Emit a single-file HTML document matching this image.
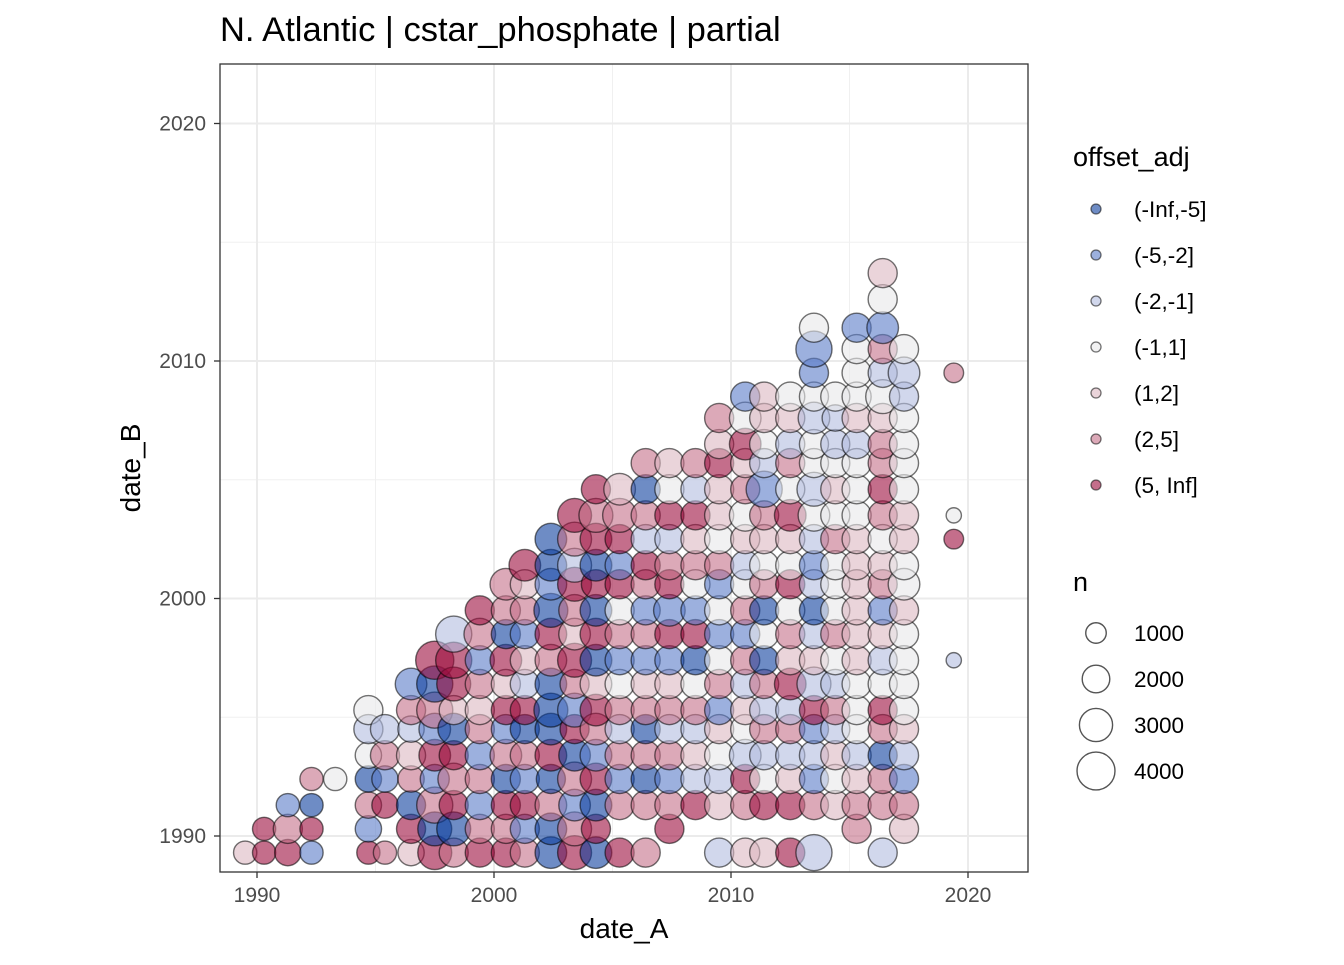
<!DOCTYPE html>
<html><head><meta charset="utf-8"><style>
body{margin:0;background:#fff;font-family:"Liberation Sans",sans-serif}
svg text{font-family:"Liberation Sans",sans-serif}
</style></head><body>
<svg id="chart" width="1344" height="960" viewBox="0 0 1344 960" xmlns="http://www.w3.org/2000/svg">
<text x="220" y="41" font-size="34.5" fill="#000">N. Atlantic | cstar_phosphate | partial</text>
<rect x="220" y="64" width="808" height="808" fill="#fff"/>
<g id="grid"></g>
<g id="marks"></g>
<rect x="220" y="64" width="808" height="808" fill="none" stroke="#333" stroke-width="1.3"/>
<g id="axes"></g>
<text x="624" y="938" font-size="28" text-anchor="middle">date_A</text>
<text transform="translate(140,468) rotate(-90)" font-size="28" text-anchor="middle">date_B</text>
<g id="legend"></g>
</svg>
<script>
const xTicks=[1990,2000,2010,2020];
const yTicks=[1990,2000,2010,2020];
const catLabels=["(-Inf,-5]","(-5,-2]","(-2,-1]","(-1,1]","(1,2]","(2,5]","(5, Inf]"];
const sizeBreaks=[1000,2000,3000,4000];
const rowY=[1989.3,1990.3,1991.3,1992.4,1993.4,1994.5,1995.3,1996.4,1997.4,1998.5,1999.5,2000.6,2001.4,2002.5,2003.5,2004.6,2005.7,2006.5,2007.6,2008.5,2009.5,2010.5,2011.4,2012.6,2013.7,2015.4];
const colX=[1989.5,1990.3,1991.3,1992.3,1993.3,1994.7,1995.4,1996.5,1997.5,1998.3,1999.4,2000.5,2001.3,2002.4,2003.4,2004.3,2005.3,2006.4,2007.4,2008.5,2009.5,2010.6,2011.4,2012.5,2013.5,2014.4,2015.3,2016.4,2017.3,2019.4];
const catCols=["5","77","762","2716","...4","7261434","6.7263","57165362","716272617","6176715773","76262656267","767162757166","6272617352657","11617111671211","762617267567367","1717267517171767","7.62636426472765","6.616165262673616",".7626365272763745","5.735364172465736","3.53452642426455756","5.673453626435465742","5.743636141645623455","7.753637564745746354","3.623273531323434434224","..545363464446454334",".6653444555555444354442","3.66167435265467665436245",".562354444544554444334","........3....74.....6"];
const sizeCols=["3","33","453","3333","...3","3444455","3.4455","45545456","778566889","5756565788","55555555565","555565556556","5555555555556","66656676667666","776765757667777","6566666666656675","5.55555555555576","5.555555555555555",".555555555655555",".55555555555555555","5.5555555555555555","5.55655555555565566","5.555555555555585555","5.555556555555655555","8.555557555555675565585","..555555555555555545","5555555555555555555555","5.55555555555555555755655",".555555555565555555565","........1....21.....2"];
const palette=["#0d3f9f","#5a7cc8","#b3bde0","#e8e8ea","#dcb8c2","#c47088","#9c0d3d"];
const X=v=>257+(v-1990)*23.7, Y=v=>836-(v-1990)*23.75;
const R=n=>Math.sqrt(20+0.085*n);
const NS="http://www.w3.org/2000/svg";
function mk(t,a,p){const e=document.createElementNS(NS,t);for(const k in a)e.setAttribute(k,a[k]);p.appendChild(e);return e;}
const grid=document.getElementById('grid');
[1995,2005,2015].forEach(v=>{
 let l=mk('line',{x1:X(v),x2:X(v),y1:64,y2:872,stroke:'#f0f0f0','stroke-width':1},grid);
 
 
 let m=mk('line',{x1:220,x2:1028,y1:Y(v),y2:Y(v),stroke:'#f0f0f0','stroke-width':1},grid);
 
 
});
const axes=document.getElementById('axes');
xTicks.forEach(v=>{
 let l=mk('line',{x1:X(v),x2:X(v),y1:64,y2:872,stroke:'#ebebeb','stroke-width':2},grid);
 
 
 mk('line',{x1:X(v),x2:X(v),y1:872,y2:878,stroke:'#333','stroke-width':1.3},axes);
 let t=mk('text',{x:X(v),y:902,'font-size':21,fill:'#4d4d4d','text-anchor':'middle'},axes);t.textContent=v;
 
 
});
yTicks.forEach(v=>{
 let l=mk('line',{x1:220,x2:1028,y1:Y(v),y2:Y(v),stroke:'#ebebeb','stroke-width':2},grid);
 
 
 mk('line',{x1:214,x2:220,y1:Y(v),y2:Y(v),stroke:'#333','stroke-width':1.3},axes);
 let t=mk('text',{x:206,y:Y(v)+7,'font-size':21,fill:'#4d4d4d','text-anchor':'end'},axes);t.textContent=v;
 
 
});
const marks=document.getElementById('marks');
colX.forEach((x,i)=>{
 const cs=catCols[i], ss=sizeCols[i];
 for(let j=0;j<cs.length&&j<rowY.length;j++){
  if(cs[j]==='.')continue;
  const cat=+cs[j], n=(+(ss[j]||5))*450;
  const c=mk('circle',{cx:X(x),cy:Y(rowY[j]),r:R(n),fill:palette[cat-1],'fill-opacity':0.6,stroke:'#000','stroke-opacity':0.55,'stroke-width':1.4},marks);
  
  
 }
});
const lg=document.getElementById('legend');
let lt=mk('text',{x:1073,y:166,'font-size':27},lg);lt.textContent='offset_adj';


catLabels.forEach((s,i)=>{
 const y=209+i*46;
 let c=mk('circle',{cx:1096,cy:y,r:5,fill:palette[i],'fill-opacity':0.6,stroke:'#000','stroke-opacity':0.55,'stroke-width':1.3},lg);
 
 
 let t=mk('text',{x:1134,y:y+8,'font-size':22.5},lg);t.textContent=s;
 
 
});
let nt=mk('text',{x:1073,y:591,'font-size':27},lg);nt.textContent='n';


sizeBreaks.forEach((b,i)=>{
 const y=633+i*46;
 let c=mk('circle',{cx:1096,cy:y,r:R(b),fill:'none',stroke:'#555','stroke-width':1.4},lg);
 
 
 let t=mk('text',{x:1134,y:y+8,'font-size':22.5},lg);t.textContent=b;
 
 
});
</script>
</body></html>
